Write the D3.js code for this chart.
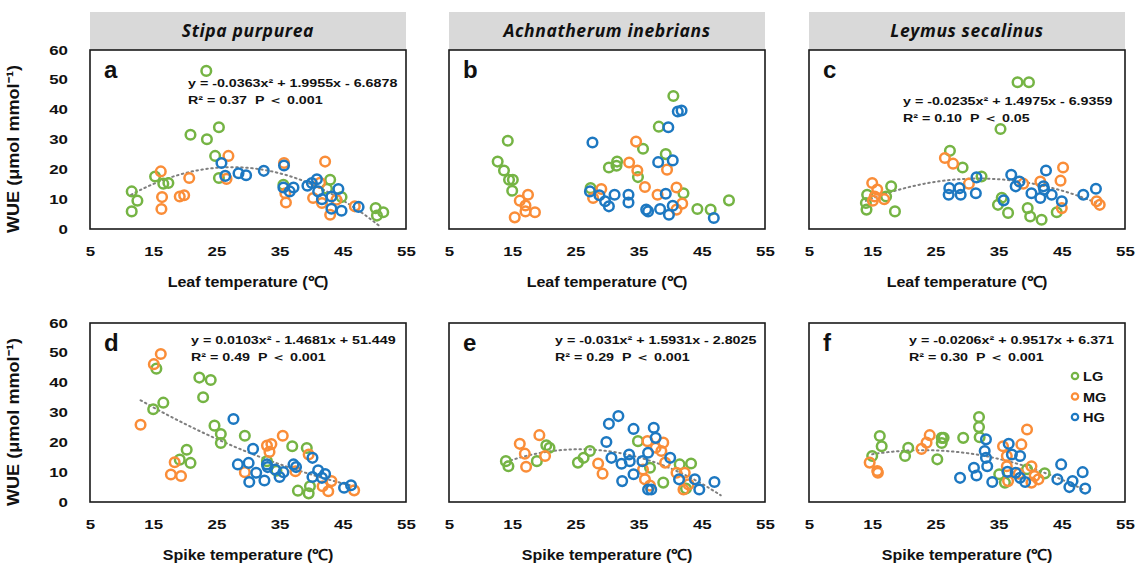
<!DOCTYPE html>
<html lang="en">
<head>
<meta charset="utf-8">
<title>WUE vs temperature</title>
<script src="https://cdn.jsdelivr.net/npm/d3@7"></script>
<style>
body { margin: 0; background: #fff; }
text { font-family: "Liberation Sans", Arial, sans-serif; font-weight: bold; fill: #111; }
.head { font-family: "Open Sans", sans-serif; font-style: italic; font-weight: 700; font-size: 17.5px; letter-spacing: 0.6px; }
.eq { white-space: pre; font-size: 10.5px; }
</style>
</head>
<body>
<svg width="1141" height="567"></svg>
<script>
// [temperature, WUE] pairs
var aLG = [[23.4,53.0],[20.9,31.6],[23.5,30.1],[25.4,34.1],[24.8,24.5],[25.4,17.1],[15.3,17.6],[16.6,15.2],[17.4,15.4],
  [11.6,12.6],[12.5,9.5],[11.6,5.9],[35.6,14.8],[43,16.5],[44.8,10.7],[50.2,7.0],[50.4,4.5],[51.4,5.6],[42.5,13.5]];
var aMG = [[16.2,19.3],[16.4,10.7],[16.3,6.7],[19.2,10.9],[19.9,11.3],[20.7,17.1],[26.9,24.5],[26.6,16.8],[35.7,22.1],
  [35.9,12.0],[36,8.9],[42.2,22.6],[41.4,15.5],[40.3,10.4],[41.7,8.7],[43,4.8],[46.9,7.6],[44,9.8]];
var aHG = [[25.8,22.1],[26.4,17.8],[28.5,18.7],[29.7,18.0],[32.5,19.5],[35.7,21.3],[35.6,13.9],[37.2,13.9],[36.6,12.6],
  [39.4,14.5],[40.1,15.4],[40.9,16.7],[41.1,12.6],[41.7,10.0],[43.2,10.9],[44.3,13.4],[43.2,6.8],[44.8,6.1],[47.5,7.4]];

var bLG = [[14.3,29.6],[12.7,22.6],[13.7,19.6],[14.5,16.5],[15.1,16.5],[15.0,12.8],[40.5,44.6],[38.2,34.3],[35.7,26.9],
  [39.3,25.1],[31.6,22.6],[31.5,21.2],[30.3,20.6],[34.9,17.4],[27.4,13.7],[42.1,12],[44.3,6.7],[46.4,6.5],[49.3,9.6]];
var bMG = [[16.2,9.5],[17.5,11.5],[17.1,7.9],[17.1,5.9],[15.4,3.9],[18.6,5.6],[29.1,13.4],[27.8,10.4],[34.6,29.3],
  [33.5,22.3],[34.8,19.6],[36,14.1],[38,11.5],[39.5,19.9],[41,13.9],[41.9,8.5],[41,6.5]];
var bHG = [[27.7,29],[27.3,12.6],[28.8,11.3],[29.7,9.3],[30.3,7.6],[31.2,11.5],[33.4,11.5],[33.4,8.9],[36.2,6.5],
  [36.5,5.9],[38.4,6.7],[39.8,4.8],[40.4,7.8],[39.3,11.8],[38.1,22.4],[40.4,23],[39.7,34.1],[41.2,39.4],[41.8,39.7],[46.9,3.7]];

var cLG = [[38,49.2],[39.8,49.2],[35.3,33.5],[27.3,26.2],[29.3,20.6],[32.3,17.6],[18.0,14.3],[17.2,10.9],[18.6,5.9],
  [14.2,11.5],[14.0,8.7],[14.1,6.5],[34.9,8.1],[36.5,5.4],[39.6,7.0],[40,4.2],[41.8,3.1],[44.2,5.6],[35.5,10.5]];
var cMG = [[15.0,15.4],[15.8,13.2],[15.4,10.9],[15.1,9.5],[16.9,10],[26.5,23.8],[27.8,21.9],[30.3,15.2],[45.2,20.6],
  [44.8,16.2],[41.6,15.9],[38.9,15.2],[45,7.0],[50.5,9.3],[51,8.1]];
var cHG = [[27.2,13.7],[27.1,11.5],[28.8,13.7],[29,11.5],[31.4,12],[31.5,17.3],[35.8,9.6],[37,18.2],[38.3,15.9],
  [37.7,14.3],[42.5,19.6],[42.1,14.3],[42.2,13.2],[40.2,12],[41.6,10.4],[43.4,11.5],[45,9.3],[48.4,11.5],[50.4,13.5]];

var dLG = [[15.5,44.7],[15.0,31.1],[16.6,33.3],[22.3,41.7],[24.1,40.9],[22.9,35.1],[24.7,25.6],[25.7,22.8],[25.7,19.8],
  [29.5,22.2],[20.3,17.5],[20.9,13.1],[19.2,14.2],[37,18.7],[39.3,18.1],[37.9,3.8],[39.6,2.9],[39.8,5.3],[33,13.7],[34.5,10.5]];
var dMG = [[16.2,49.6],[15.1,46.2],[13.0,25.9],[18.4,13.3],[17.8,9.2],[19.4,8.7],[29.5,10],[33,18.9],[33.7,19.4],
  [33.4,16.8],[35.5,22.2],[39.6,15.9],[37.5,10.3],[41.8,5.3],[42.7,3.6],[43.2,7.0],[46.8,3.9]];
var dHG = [[27.7,27.8],[30.8,17.8],[28.4,12.6],[30.1,13.1],[30.2,6.7],[31.3,9.8],[32.6,7.2],[33,12.6],[33.1,11.7],
  [34.3,10.9],[35,8.4],[35.6,10],[37.2,12.6],[37.6,11.7],[40.2,14.8],[40.2,8.4],[41.1,10.6],[41.7,8.1],[42.2,9.4],[45.2,4.8],[46.3,5.6]];

var eLG = [[14,13.7],[14.4,12],[18.9,13.7],[20.4,19],[20.9,18.2],[25.4,13.2],[26.3,14.8],[27.3,17.1],[34.9,20.4],
  [36.8,11.5],[41.5,12.6],[43.3,12.9],[38.9,6.5],[42.5,4.5]];
var eMG = [[16.2,19.5],[19.3,22.4],[17,16.2],[17.2,11.8],[20.2,15.4],[28.6,12.9],[29.3,9.5],[36.4,20.4],[37.7,18.2],
  [38.9,19.9],[38.6,17.1],[35.7,10.9],[36,7.6],[36.8,5.5],[39.2,13.2],[41,9.8],[42.3,9.8],[42.1,4.2],[42.9,5.9]];
var eHG = [[31.8,28.8],[30.3,26.2],[34.2,24.5],[37.4,24.9],[37.7,21.5],[29.9,20.1],[30.7,14.8],[32.3,12.8],[33.5,15.9],
  [33.6,13.7],[35.6,13.7],[36.5,16.5],[40,14.8],[34.2,9.3],[32.4,7],[36.5,4.2],[37,4.2],[41.4,7.6],[43.9,7.6],[44.6,4.2],[47,6.7]];

var fLG = [[16.2,22.1],[16.5,18.7],[15.0,15.4],[20.7,18.2],[20.2,15.4],[25.3,14.3],[26,21.5],[26.3,21.5],[26,19.8],
  [29.4,21.5],[31.9,28.5],[31.9,25.1],[32,21.7],[35.1,9.3],[36,6.5],[42.3,9.6],[39.5,11]];
var fMG = [[14.6,13.2],[15.8,10.4],[15.9,9.8],[22.8,17.8],[23.6,19.9],[24.1,22.4],[39.5,24.3],[38.6,19.3],[35.7,18.7],
  [36.3,15.4],[36.3,12],[40.2,12],[40.7,8.7],[41.3,7.6],[40.2,6.5],[36.5,7],[38.2,9.5]];
var fHG = [[33,21],[32.8,17.1],[33,14.8],[33.2,12],[31.1,11.5],[31.5,8.9],[28.9,8.1],[34,6.7],[36.6,19.5],[37.1,15.9],
  [38.4,15.4],[36.4,10.1],[37.7,9.8],[38.4,8.1],[39.2,6.7],[44.9,12.6],[44.3,7.6],[46.7,7.0],[46.2,5.0],[48.3,10],[48.7,4.5]];

var species = ["Stipa purpurea", "Achnatherum inebrians", "Leymus secalinus"];
var groups = ["LG", "MG", "HG"];
var xTicks = [5, 15, 25, 35, 45, 55];
var yTicks = [0, 10, 20, 30, 40, 50, 60];

// fitted quadratics: [a, b, c, xmin, xmax]
var fits = {
  a: [-0.0363, 1.9955, -6.6878, 11.5, 51],
  c: [-0.0235, 1.4975, -6.9359, 14, 51],
  d: [0.0103, -1.4681, 51.449, 13, 47],
  e: [-0.031, 1.5931, -2.8025, 14, 48],
  f: [-0.0206, 0.9517, 6.371, 15, 48.5]
};
var eqs = {
  a: ["y = -0.0363x\u00b2 + 1.9955x - 6.6878", "R\u00b2 = 0.37  P \uff1c 0.001"],
  c: ["y = -0.0235x\u00b2 + 1.4975x - 6.9359", "R\u00b2 = 0.10  P \uff1c 0.05"],
  d: ["y = 0.0103x\u00b2 - 1.4681x + 51.449", "R\u00b2 = 0.49  P \uff1c 0.001"],
  e: ["y = -0.031x\u00b2 + 1.5931x - 2.8025", "R\u00b2 = 0.29  P \uff1c 0.001"],
  f: ["y = -0.0206x\u00b2 + 0.9517x + 6.371", "R\u00b2 = 0.30  P \uff1c 0.001"]
};

var panels = [
  {id: "a", row: 0, col: 0, data: [aLG, aMG, aHG], eq: [188, 87]},
  {id: "b", row: 0, col: 1, data: [bLG, bMG, bHG]},
  {id: "c", row: 0, col: 2, data: [cLG, cMG, cHG], eq: [903, 105]},
  {id: "d", row: 1, col: 0, data: [dLG, dMG, dHG], eq: [191, 344]},
  {id: "e", row: 1, col: 1, data: [eLG, eMG, eHG], eq: [555, 344]},
  {id: "f", row: 1, col: 2, data: [fLG, fMG, fHG], eq: [909, 344]}
];

var colors = ["#75b444", "#fa8d38", "#1d78c1"];
var lefts = [90, 449, 809], tops = [50, 323],
    width = 316, height = 179;

// the source figure's text is stretched sideways
var tickStretch = 1.3, eqStretch = 1.36, labStretch = 1.07;

var svg = d3.select("svg");

panels.forEach(function(p) {
  var x0 = lefts[p.col], y0 = tops[p.row];
  var x = d3.scaleLinear().domain([5, 55]).range([0, width]),
      y = d3.scaleLinear().domain([0, 60]).range([height, 0]);

  var g = svg.append("g").attr("transform", "translate(" + x0 + "," + y0 + ")");

  if (p.row == 0) {
    g.append("rect").attr("x", 0).attr("y", -38).attr("width", width).attr("height", 38)
      .attr("fill", "#d9d9d9");
    g.append("text").attr("class", "head").attr("x", width / 2).attr("y", -13)
      .attr("text-anchor", "middle").text(species[p.col]);
  }

  g.append("rect").attr("width", width).attr("height", height)
    .attr("fill", "#fff").attr("stroke", "#1a1a1a").attr("stroke-width", 1.6);

  var xa = g.append("g").attr("transform", "translate(0," + height + ")")
    .call(d3.axisBottom(x).tickValues(xTicks).tickSize(0).tickPadding(18));
  xa.select(".domain").remove();
  xa.selectAll("text").style("font-size", "13px").style("font-family", "Liberation Sans, Arial")
    .style("font-weight", "bold").attr("fill", "#111")
    .attr("transform", "scale(" + tickStretch + ",1)");

  if (p.col == 0) {
    var ya = g.append("g")
      .call(d3.axisLeft(y).tickValues(yTicks).tickSize(0).tickPadding(22 / tickStretch));
    ya.select(".domain").remove();
    ya.selectAll("text").style("font-size", "13px").style("font-family", "Liberation Sans, Arial")
      .style("font-weight", "bold").attr("fill", "#111")
      .attr("transform", "scale(" + tickStretch + ",1)");
    // starts just below the "0" label and runs upward
    g.append("text").attr("transform", "translate(-71," + (height + 4) + ") rotate(-90)")
      .attr("text-anchor", "start").style("font-size", "17px")
      .attr("textLength", 168).attr("lengthAdjust", "spacingAndGlyphs")
      .text("WUE (\u03bcmol mmol\u207b\u00b9)");
  }

  g.append("text").attr("transform", "translate(" + (width / 2) + "," + (height + 58) + ") scale(" + labStretch + ",1)")
    .attr("text-anchor", "middle").style("font-size", "15px")
    .text(p.row == 0 ? "Leaf temperature (\u2103)" : "Spike temperature (\u2103)");

  g.append("text").attr("x", 14).attr("y", 28).style("font-size", "24px").text(p.id);

  var fit = fits[p.id];
  if (fit) {
    var xs = d3.range(fit[3], fit[4] + 0.01, 0.25);
    var line = d3.line()
      .x(function(t) { return x(t); })
      .y(function(t) { return y(fit[0] * t * t + fit[1] * t + fit[2]); });
    g.append("path").datum(xs).attr("d", line).attr("fill", "none")
      .attr("stroke", "#7f7f7f").attr("stroke-width", 2).attr("stroke-dasharray", "1.5,3.5")
      .attr("stroke-linecap", "round");
  }

  p.data.forEach(function(pts, i) {
    g.selectAll(".pt" + i).data(pts).enter().append("circle")
      .attr("class", "pt" + i)
      .attr("cx", function(d) { return x(d[0]); })
      .attr("cy", function(d) { return y(d[1]); })
      .attr("r", 4.8)
      .attr("fill", "none")
      .attr("stroke", colors[i])
      .attr("stroke-width", 2.5);
  });

  if (p.eq) {
    eqs[p.id].forEach(function(s, k) {
      svg.append("text").attr("class", "eq")
        .attr("transform", "translate(" + p.eq[0] + "," + (p.eq[1] + k * 17) + ") scale(" + eqStretch + ",1)")
        .text(s);
    });
  }
});

// legend in panel f
var leg = svg.append("g").attr("transform", "translate(1075,376)");
groups.forEach(function(gname, i) {
  leg.append("circle").attr("cx", 0).attr("cy", i * 20.5).attr("r", 3.2)
    .attr("fill", "none").attr("stroke", colors[i]).attr("stroke-width", 2.2);
  leg.append("text").attr("transform", "translate(8," + (i * 20.5 + 5) + ") scale(1.12,1)")
    .style("font-size", "13px").text(gname);
});
</script>
</body>
</html>
